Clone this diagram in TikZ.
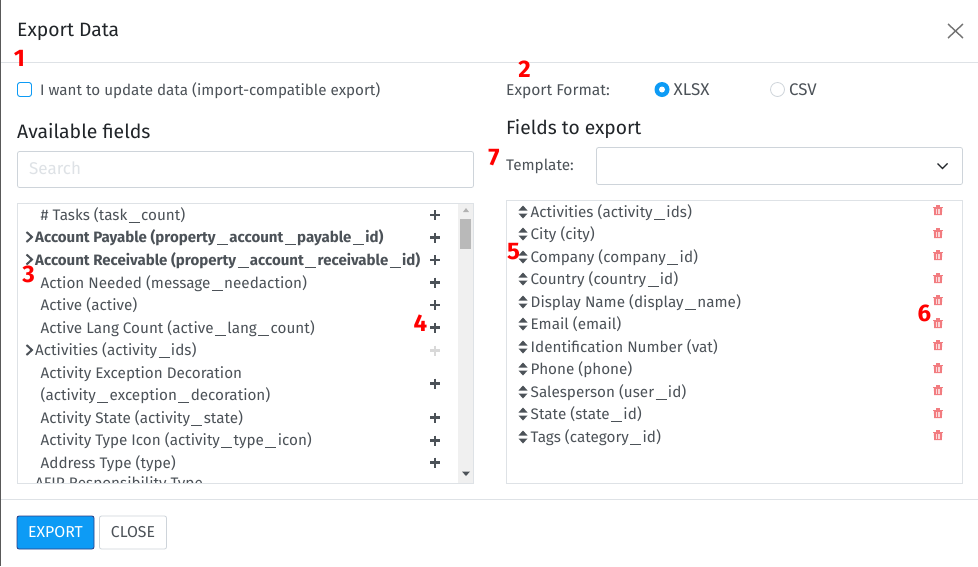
\documentclass[tikz,border=0pt]{standalone}
\usepackage{fontspec}
\setmainfont{Fira Sans}
\definecolor{txt}{HTML}{4C5258}
\definecolor{head}{HTML}{212529}
\definecolor{rule}{HTML}{DEE2E6}
\definecolor{boxl}{HTML}{CED4DA}
\definecolor{blue}{HTML}{0D9BF5}
\definecolor{trash}{HTML}{F27C80}
\definecolor{ann}{HTML}{FF0000}
\newcommand{\fs}[1]{\fontsize{#1}{#1}\selectfont}
\newcommand{\us}{\kern1.4pt\rule[-2.7pt]{11pt}{1.1pt}\kern1.4pt}
\tikzset{
 x=1pt,y=-1pt,
 lab/.style={anchor=base west,inner sep=0pt,text=txt,font=\fs{15.25}},
 labb/.style={lab,font=\fs{15.05}\bfseries},
 hd/.style={anchor=base west,inner sep=0pt,text=head,font=\fs{19.4}},
 num/.style={anchor=center,inner sep=0pt,text=ann,font=\fs{24}\bfseries},
 frame/.style={draw=boxl,line width=.8pt,rounded corners=2pt},
 btn/.style={line width=.8pt,rounded corners=2pt,minimum height=33pt,inner sep=0pt,font=\fs{15.8}},
}
\newcommand{\plusat}[2][txt]{\draw[line width=2.6pt,#1] (430,#2)--(440,#2) (435,#2-5)--(435,#2+5);}
\newcommand{\chev}[1]{\draw[line width=2pt,txt] (26.5,#1-5)--(32,#1)--(26.5,#1+5);}
\newcommand{\updown}[1]{\fill[txt] (518.5,#1-1.5)--(523,#1-6.5)--(527.5,#1-1.5)--cycle (518.5,#1+1.5)--(523,#1+6.5)--(527.5,#1+1.5)--cycle;}
\newcommand{\bin}[1]{\begin{scope}[shift={(938,#1)}]
 \fill[trash] (-5,-3.4) rectangle (5,-1.8);
 \fill[trash] (-2,-5.2) rectangle (2,-3);
 \fill[trash] (-4.2,-1.8) -- (4.2,-1.8) -- (3.8,5) -- (-3.8,5) -- cycle;
 \draw[white!70!trash,line width=.7pt] (-1.6,-.6)--(-1.6,3.7) (0,-.6)--(0,3.7) (1.6,-.6)--(1.6,3.7);
 \end{scope}}
\begin{document}
\begin{tikzpicture}
\useasboundingbox (0,0) rectangle (978,566);
\fill[white] (0,0) rectangle (978,566);
\fill[gray!70!black] (0,0) rectangle (1,566);
\draw[rule,line width=.8pt] (1,62.5)--(978,62.5);
\draw[rule,line width=.8pt] (1,499.5)--(978,499.5);
% header
\node[anchor=base west,inner sep=0pt,text=head,font=\fs{19.3}] (title) at (17,36) {Export Data};
\draw[gray!90!black,line width=1.4pt] (948,24)--(963,38) (963,24)--(948,38);
% top row
\draw[draw=blue,line width=.9pt,rounded corners=2.5pt] (17.5,82.5) rectangle (31.5,96.5);
\node[lab,font=\fs{15.2}] (upd) at (40,95) {I want to update data (import-compatible export)};
\node[lab,font=\fs{15.6}] (fmt) at (506,95) {Export Format:};
\fill[blue] (662,89.5) circle (7.5); \fill[white] (662,89.5) circle (3);
\node[lab,font=\fs{17}] (xlsx) at (673.5,95) {XLSX};
\draw[boxl,line width=.8pt] (777.5,89.5) circle (7);
\node[lab,font=\fs{16.8}] (csv) at (789,95) {CSV};
% headings
\node[hd] (avail) at (17,138) {Available fields};
\node[hd,font=\fs{19.2}] (ftoe) at (506,134) {Fields to export};
% search
\draw[frame] (17.5,151.5) rectangle (473.5,187.5);
\node[lab,text=rule,font=\fs{17}] (search) at (29,174.5) {Search};
% template
\node[lab,font=\fs{15.3}] (tpl) at (506,170) {Template:};
\draw[frame] (596.5,147.5) rectangle (962.5,184.5);
\draw[head,line width=1.2pt] (937.5,163.5)--(942.5,168.5)--(947.5,163.5);
% left list
\begin{scope}
\clip (18,204) rectangle (473,483);
\fill[gray!12] (458,204) rectangle (473,483);
\fill[gray!55] (460,219) rectangle (471,249);
\fill[gray!60] (463,212)--(466,208)--(469,212)--cycle;
\fill[txt] (462,471.5)--(466,476)--(470,471.5)--cycle;
\node[lab] (l1) at (40.5,220) {\# Tasks (task\us count)};
\node[labb] (l2) at (35,242.5) {Account Payable (property\us account\us payable\us id)};
\node[labb] (l3) at (35,265) {Account Receivable (property\us account\us receivable\us id)};
\node[lab] (l4) at (40.5,288) {Action Needed (message\us needaction)};
\node[lab] (l5) at (40.5,310) {Active (active)};
\node[lab] (l6) at (40.5,333) {Active Lang Count (active\us lang\us count)};
\node[lab] (l7) at (35,355) {Activities (activity\us ids)};
\node[lab] (l8) at (40.5,378) {Activity Exception Decoration};
\node[lab] (l8b) at (40.5,400) {(activity\us exception\us decoration)};
\node[lab] (l9) at (40.5,423) {Activity State (activity\us state)};
\node[lab] (l10) at (40.5,445) {Activity Type Icon (activity\us type\us icon)};
\node[lab] (l11) at (40.5,468) {Address Type (type)};
\node[lab] (l12) at (35,488.5) {AFIP Responsibility Type};
\plusat{215} \plusat{237.5} \plusat{260} \plusat{282.5} \plusat{305} \plusat{327.5}
\plusat[gray!30]{350.5} \plusat{383.5} \plusat{417.5} \plusat{440.5} \plusat{462.5}
\chev{237} \chev{259.5} \chev{350}
\end{scope}
\draw[rule,line width=.9pt] (17.5,203.5) rectangle (473.5,483);
% right list
\draw[rule,line width=.9pt] (506.5,200.5) rectangle (962.5,483);
\node[lab] (r1) at (530.5,217) {Activities (activity\us ids)};
\node[lab] (r2) at (530.5,239) {City (city)};
\node[lab] (r3) at (530.5,262) {Company (company\us id)};
\node[lab] (r4) at (530.5,284) {Country (country\us id)};
\node[lab] (r5) at (530.5,307) {Display Name (display\us name)};
\node[lab] (r6) at (530.5,329) {Email (email)};
\node[lab] (r7) at (530.5,352) {Identification Number (vat)};
\node[lab] (r8) at (530.5,374) {Phone (phone)};
\node[lab] (r9) at (530.5,397) {Salesperson (user\us id)};
\node[lab] (r10) at (530.5,419) {State (state\us id)};
\node[lab] (r11) at (530.5,442) {Tags (category\us id)};
\updown{212} \updown{234} \updown{257} \updown{279} \updown{302} \updown{324}
\updown{347} \updown{369} \updown{392} \updown{414} \updown{437}
\bin{210} \bin{233} \bin{255} \bin{278} \bin{300} \bin{323} \bin{345} \bin{368} \bin{390} \bin{413} \bin{435}
% buttons
\node[btn,draw=blue!55!black!70!violet,fill=blue,minimum width=77pt,text=white] (export) at (55.5,532.5) {EXPORT};
\node[btn,draw=boxl,fill=white,minimum width=67pt,text=txt] (close) at (133,532.5) {CLOSE};
% annotations
\node[num] (n1) at (19.5,58) {1};
\node[num] (n2) at (524.5,69) {2};
\node[num] (n3) at (28.5,274) {3};
\node[num] (n4) at (420.5,323) {4};
\node[num] (n5) at (513.5,252) {5};
\node[num] (n6) at (924.5,313) {6};
\node[num] (n7) at (494,158) {7};
\end{tikzpicture}
\end{document}
